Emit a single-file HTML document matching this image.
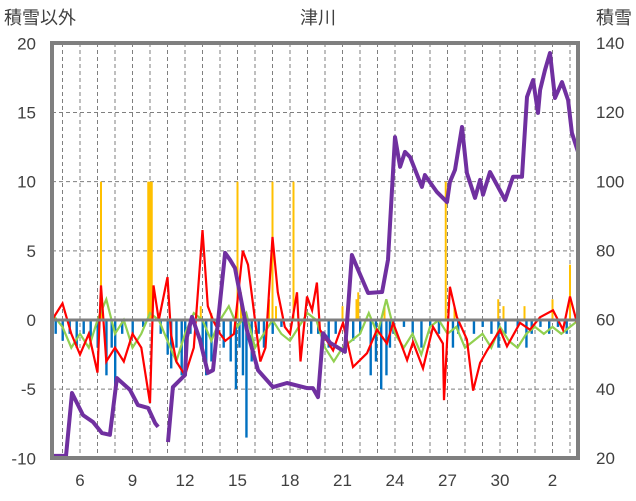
<!DOCTYPE html>
<html><head><meta charset="utf-8"><style>
html,body{margin:0;padding:0;background:#fff;}
svg{display:block;font-family:"Liberation Sans","Noto Sans CJK JP",sans-serif;}
</style></head><body>
<svg id="chart" width="636" height="501" viewBox="0 0 636 501">
<text x="4" y="24" font-size="18" fill="#404040">積雪以外</text>
<text x="318" y="24" font-size="18" fill="#404040" text-anchor="middle">津川</text>
<text x="632" y="24" font-size="18" fill="#404040" text-anchor="end">積雪</text>
<g id="grid"></g><g id="bars"></g><g id="lines"></g><g id="axes"></g>
</svg>
<script>
const xTickLabels=["6","9","12","15","18","21","24","27","30","2"];
const xTickDays=[6,9,12,15,18,21,24,27,30,33];
const leftTicks=[20,15,10,5,0,-5,-10];
const rightTicks=[140,120,100,80,60,40,20];
const snowDays=[4.4,5.2,5.54,6.17,6.74,7.26,7.71,8.11,8.86,9.31,9.89,10.29,10.46,null,11.03,11.31,12.0,12.11,12.4,12.86,13.31,13.6,14.29,14.57,14.86,15.54,16.17,17.03,17.83,18.97,19.31,19.6,19.89,20.29,21.14,21.54,21.89,22.46,23.26,23.6,24.0,24.29,24.57,24.86,25.54,25.71,26.4,26.97,27.14,27.43,27.83,28.11,28.57,28.86,29.03,29.43,30.29,30.74,31.26,31.54,31.89,32.17,32.29,32.57,32.86,33.14,33.54,33.89,34.11,34.46];
const snowDepth=[20.6,20.6,38.8,32.4,30.4,27.2,26.7,43.1,39.7,35.3,34.5,30.1,29.0,null,24.6,40.5,44.0,55.0,60.8,54.1,44.6,45.4,79.3,77.3,74.9,57.0,45.4,40.5,41.7,40.2,40.2,37.6,56.1,53.3,50.7,78.7,74.4,67.7,68.0,77.3,112.8,104.2,108.5,107.0,98.4,101.8,96.9,94.0,99.8,103.3,115.7,102.4,95.2,100.4,96.1,102.7,94.6,101.3,101.3,124.4,129.3,119.8,126.4,132.2,137.1,124.1,128.7,123.5,114.0,108.5];
const redDays=[4.4,5.0,5.5,6.0,6.5,7.0,7.2,7.5,8.0,8.5,9.0,9.5,10.0,10.2,10.5,11.0,11.2,11.5,12.0,12.5,13.0,13.3,13.6,14.0,14.3,14.8,15.3,15.6,16.0,16.3,16.6,17.0,17.3,17.7,18.0,18.4,18.6,18.97,19.26,19.54,19.71,20.46,21.03,21.6,22.4,22.97,23.54,23.89,24.69,25.03,25.6,26.17,26.74,26.8,27.14,27.54,28.11,28.46,28.86,29.26,30.0,30.4,31.14,31.71,32.29,33.03,33.6,34.0,34.4];
const redVals=[0,1.2,-1,-2.5,-1,-3.8,2.5,-3,-2,-3,-1,-2,-6,2.5,0,3.1,-1,-3,-4,-2,6.5,1,0,-1,-1.5,-1,5,4,0,-3,-2,6,2,-0.5,-1,2,-3,1.7,0.7,2.7,-0.7,-2.2,-0.2,-3.4,-2.4,-0.7,-1.7,-0.2,-2.9,-1.6,-3.5,-0.5,-1.7,-5.8,2.4,0.2,-1.4,-5.1,-3.1,-2.2,-0.7,-1.9,-0.2,-0.7,0.2,0.7,-0.7,1.7,-0.2];
const greenDays=[4.5,5,5.5,6,6.5,7,7.5,8,8.5,9,9.5,10,10.5,11,11.5,12,12.5,13,13.5,14,14.5,15,15.5,16,16.5,17,17.5,18,18.5,19,19.5,20,20.5,21,21.5,22,22.5,23,23.5,24,24.5,25,25.5,26,26.5,27,27.5,28,28.5,29,29.5,30,30.5,31,31.5,32,32.5,33,33.5,34,34.5];
const greenVals=[0.3,-0.5,-2,-1,-2,0,1.5,-1,0,-2,-1,0.5,0,-1.5,-3,-1,0.5,0,-1.5,0,1,-0.5,0.5,-2,-1,0,-1,-1.5,-0.5,0.5,0,-2,-3,-2,-1.5,-1,0.5,-1,1.5,-1,-2,-1,-2.5,-0.5,0,-1,-0.5,-2,-1.5,-1,-2,-0.5,-1.5,-2,-1,-0.5,-1,-0.5,-1,-0.5,0];
const blueDays=[4.6,5.0,5.4,5.8,6.2,6.6,7.0,7.5,7.8,8.0,8.4,9.0,9.6,10.6,11.0,11.2,11.5,11.8,12.0,12.3,13.0,13.2,13.5,13.8,14.2,14.6,14.9,15.1,15.3,15.5,15.8,16.2,16.5,17.0,17.5,19.2,19.6,20.2,20.6,21.6,22.0,22.6,22.9,23.2,23.5,23.7,23.9,24.5,25.0,25.5,26.0,26.5,27.3,27.6,28.5,29.0,29.5,29.9,30.3,31.0,31.5,31.8,32.3,32.8,33.3,33.8];
const blueVals=[-1,-1.5,-1,-2,-1,-1.5,-2,-4,-2,-5,-1,-1,-0.5,-1,-2.5,-3.5,-2,-4,-3,-1,-2,-4,-3,-1,-2,-3,-5,-2,-4,-8.5,-3,-1,-2,-1,-0.5,-1,-1,-2,-1,-1.5,-1,-4,-3,-5,-4,-2,-1,-0.5,-1,-2,-0.5,-1,-2,-1,-1,-0.5,-1,-2,-1,-0.5,-2,-1,-0.5,-1,-0.5,-1];
const orangeDays=[7.2,9.9,10.0,10.1,12.9,13.5,15.0,15.2,16.8,17.0,17.2,18.2,21.0,21.8,21.9,23.4,26.9,27.4,29.9,30.2,31.4,33.0,34.0];
const orangeVals=[10,10,10,10,1,0.5,10,2,1.5,10,1,10,1,1.5,2,1,10,1,1.5,1,1,1.5,4];

const svg=document.getElementById('chart');
const NS='http://www.w3.org/2000/svg';
const X0=52,X1=578,Y0=43,Y1=458;
const xs=d=>80+(d-6)*17.5;
const yL=v=>320-v*(Y1-Y0)/30;
const yR=v=>Y1-(v-20)*(Y1-Y0)/120;
function mk(tag,attrs,parent){const e=document.createElementNS(NS,tag);for(const k in attrs)e.setAttribute(k,attrs[k]);parent.appendChild(e);return e;}
const grid=document.getElementById('grid'),bars=document.getElementById('bars'),lines=document.getElementById('lines'),axes=document.getElementById('axes');
for(let d=5;d<=34;d++){const x=xs(d);
 const l=mk('line',{x1:x,x2:x,y1:Y0,y2:Y1,stroke:'#7f7f7f','stroke-width':1,'stroke-dasharray':'4,3'},grid);
 
 }
leftTicks.forEach((v,i)=>{const y=yL(v);
 if(v!==0&&v!==20&&v!==-10){const l=mk('line',{x1:X0,x2:X1,y1:y,y2:y,stroke:'#7f7f7f','stroke-width':1,'stroke-dasharray':'4,3'},grid);
 
 }
 const t=mk('text',{x:36,y:y+6,'font-size':17,'text-anchor':'end',fill:'#404040'},axes);t.textContent=v;
 
 });
rightTicks.forEach(v=>{const t=mk('text',{x:596,y:yR(v)+6,'font-size':17,fill:'#404040'},axes);t.textContent=v;
 
 });
xTickDays.forEach((d,i)=>{const t=mk('text',{x:xs(d),y:486,'font-size':17,'text-anchor':'middle',fill:'#404040'},axes);t.textContent=xTickLabels[i];
 
 });
blueDays.forEach((d,i)=>{const y=yL(blueVals[i]);const r=mk('rect',{x:xs(d)-1,y:yL(0),width:2.4,height:y-yL(0),fill:'#0070c0'},bars);
 
 });
orangeDays.forEach((d,i)=>{const y=yL(orangeVals[i]);const r=mk('rect',{x:xs(d)-1,y:y,width:2,height:yL(0)-y,fill:'#ffc000'},bars);
 
 });
function path(days,vals,sc){let s='',pen=false;days.forEach((d,i)=>{if(d===null||vals[i]===null){pen=false;return;}s+=(pen?'L':'M')+xs(d).toFixed(1)+','+sc(vals[i]).toFixed(1);pen=true;});return s;}
const g=mk('path',{d:path(greenDays,greenVals,yL),fill:'none',stroke:'#92d050','stroke-width':2.2},lines);


const r=mk('path',{d:path(redDays,redVals,yL),fill:'none',stroke:'#ff0000','stroke-width':2.2},lines);


const zl=mk('line',{x1:X0,x2:X1,y1:yL(0),y2:yL(0),stroke:'#7f7f7f','stroke-width':3},lines);


const p=mk('path',{d:path(snowDays,snowDepth,yR),fill:'none',stroke:'#7030a0','stroke-width':4,'stroke-linejoin':'round'},lines);


const fr=mk('rect',{x:X0,y:Y0,width:X1-X0,height:Y1-Y0,fill:'none',stroke:'#7f7f7f','stroke-width':4},axes);


</script>
</body></html>
